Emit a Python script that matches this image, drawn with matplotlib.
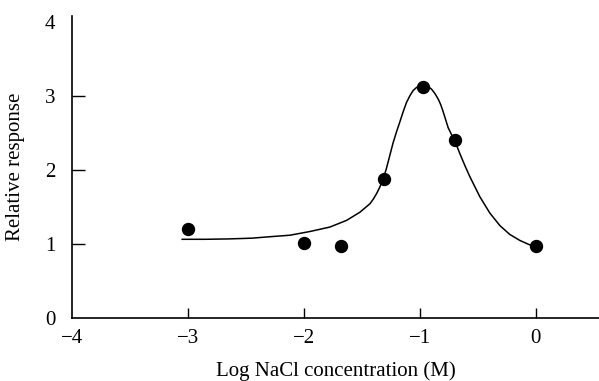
import matplotlib
matplotlib.use("Agg")
import matplotlib.pyplot as plt

# measured points
log_nacl = [-3.0, -2.0, -1.68, -1.31, -0.975, -0.70, 0.0]
response = [1.20, 1.01, 0.97, 1.88, 3.12, 2.40, 0.98]

# fitted curve
curve_x = [-3.05, -2.85, -2.65, -2.45, -2.29, -2.12, -1.948, -1.776, -1.632, -1.517,
           -1.43, -1.40, -1.37, -1.345, -1.316, -1.29, -1.26, -1.23, -1.20, -1.172,
           -1.145, -1.115, -1.086, -1.058, -1.03, -1.0, -0.977, -0.95, -0.925, -0.90,
           -0.87, -0.84, -0.82, -0.80, -0.78, -0.756, -0.728, -0.698, -0.655, -0.612,
           -0.569, -0.483, -0.397, -0.31, -0.224, -0.138, -0.052, 0.0]
curve_y = [1.065, 1.065, 1.07, 1.08, 1.10, 1.12, 1.17, 1.23, 1.32, 1.43,
           1.545, 1.61, 1.69, 1.77, 1.88, 2.01, 2.19, 2.37, 2.52, 2.65,
           2.78, 2.91, 3.00, 3.07, 3.11, 3.135, 3.14, 3.135, 3.12, 3.09,
           3.03, 2.95, 2.88, 2.79, 2.69, 2.57, 2.48, 2.39, 2.22, 2.06,
           1.91, 1.64, 1.42, 1.25, 1.13, 1.05, 0.99, 0.97]

xticks = [-4, -3, -2, -1, 0]
yticks = [0, 1, 2, 3, 4]

plt.rcParams['font.family'] = ['Liberation Serif', 'DejaVu Serif']

fig = plt.figure(figsize=(5.99, 3.81), dpi=100)
ax = fig.add_axes([72/599, 1 - 318.3/381, 1 - 72/599, (318.3 - 16)/381])

ax.plot(curve_x, curve_y, color='black', lw=1.1, solid_joinstyle='round')
ax.plot(log_nacl, response, 'o', color='black', ms=8.6)

ax.set_xlim(-4, 0.545)
ax.set_ylim(0, 4.075)
ax.set_xticks(xticks)
ax.set_yticks(yticks)
ax.set_xticklabels(['\u22124', '\u22123', '\u22122', '\u22121', '0'])

for s in ['top', 'right']:
    ax.spines[s].set_visible(False)
for s in ['left', 'bottom']:
    ax.spines[s].set_linewidth(1.2)

ax.tick_params(axis='x', direction='in', length=7.5, width=1.0, labelsize=15, pad=8)
ax.tick_params(axis='y', direction='in', length=9.5, width=1.0, labelsize=15, pad=12)
# no marks at the ends of the axes
ax.xaxis.get_major_ticks()[0].tick1line.set_visible(False)
ax.yaxis.get_major_ticks()[0].tick1line.set_visible(False)
ax.yaxis.get_major_ticks()[-1].tick1line.set_visible(False)

ax.set_xlabel('Log NaCl concentration (M)', fontsize=15, labelpad=9)
ax.set_ylabel('Relative response', fontsize=15, labelpad=14)

fig.savefig('out.png', dpi=100)
